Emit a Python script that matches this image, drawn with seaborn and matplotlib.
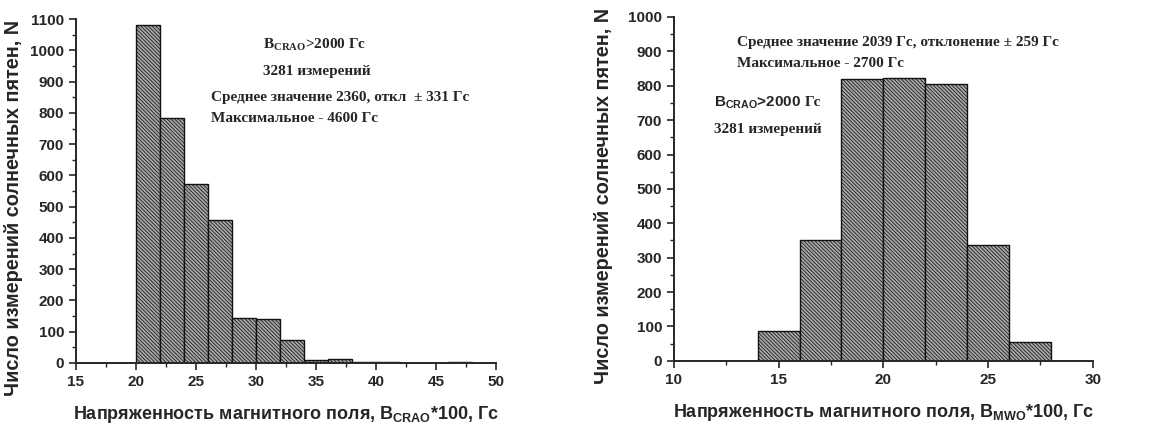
import numpy as np
import pandas as pd
import matplotlib
matplotlib.use("Agg")
import matplotlib.pyplot as plt
import matplotlib.ticker as mtick
import seaborn as sns

# CRAO histogram: bin edges (x100 Гс) and counts
crao_edges = [20, 22, 24, 26, 28, 30, 32, 34, 36, 38, 40, 42, 44, 46, 48]
crao_counts = [1082, 783, 573, 458, 144, 140, 75, 10, 13, 2, 3, 1, 1, 2]

# MWO histogram
mwo_edges = [14, 16, 18, 20, 22, 24, 26, 28]
mwo_counts = [87, 350, 820, 823, 805, 338, 55]

ylabel = "Число измерений солнечных пятен, N"
xlabel_crao = r"Напряженность магнитного поля, B$_{\mathregular{CRAO}}$*100, Гс"
xlabel_mwo = r"Напряженность магнитного поля, B$_{\mathregular{MWO}}$*100, Гс"

sns.set_style("ticks")
plt.rcParams["font.family"] = ["Liberation Sans", "DejaVu Sans"]
plt.rcParams["font.weight"] = "bold"
plt.rcParams["hatch.linewidth"] = 0.55
plt.rcParams["mathtext.default"] = "regular"

fig = plt.figure(figsize=(11.6, 4.25), dpi=100)
ax1 = fig.add_axes([0.0655, 0.146, 0.362, 0.809])
ax2 = fig.add_axes([0.581, 0.151, 0.361, 0.809])


def draw_hist(ax, edges, counts):
    centers = [(a + b) / 2 for a, b in zip(edges[:-1], edges[1:])]
    df = pd.DataFrame({"x": centers, "n": counts})
    sns.histplot(data=df, x="x", weights="n", bins=edges, ax=ax,
                 color="#a8a8a8", edgecolor="#111111", linewidth=1.0,
                 alpha=1, hatch="\\" * 9)


draw_hist(ax1, crao_edges, crao_counts)
draw_hist(ax2, mwo_edges, mwo_counts)

serif = ["Liberation Serif", "DejaVu Serif"]

setup = [(ax1, (15, 50), (0, 1100), xlabel_crao, (-0.126, 0.45)),
         (ax2, (10, 30), (0, 1000), xlabel_mwo, (-0.146, 0.48))]
for ax, xlim, ylim, xl, ylc in setup:
    ax.set_xlim(*xlim)
    ax.set_ylim(*ylim)
    xt = np.arange(xlim[0], xlim[1] + 1, 5)
    yt = np.arange(ylim[0], ylim[1] + 1, 100)
    ax.set_xticks(xt, [str(v) for v in xt])
    ax.set_yticks(yt, [str(v) for v in yt])
    ax.xaxis.set_minor_locator(mtick.MultipleLocator(2.5))
    ax.yaxis.set_minor_locator(mtick.MultipleLocator(50))
    ax.tick_params(which="major", direction="out", length=5, width=1.2,
                   labelsize=11)
    ax.tick_params(which="minor", direction="out", length=3, width=1.0)
    sns.despine(ax=ax)
    ax.spines["left"].set_linewidth(1.4)
    ax.spines["bottom"].set_linewidth(1.4)
    ax.set_xlabel(xl, fontsize=13, fontweight="bold", labelpad=11)
    ax.set_ylabel(ylabel, fontsize=14.3, fontweight="bold")
    ax.yaxis.set_label_coords(*ylc)

# annotations, left panel
kw = dict(transform=ax1.transAxes, fontsize=11, fontweight="bold",
          family=serif, va="center", ha="left")
ax1.text(0.445, 0.924, r"B$_{\mathregular{CRAO}}$>2000 Гс", **kw)
ax1.text(0.445, 0.849, "3281 измерений", **kw)
ax1.text(0.321, 0.773, "Среднее значение 2360, откл  ± 331 Гс", **kw)
ax1.text(0.321, 0.712, "Максимальное - 4600 Гс", **kw)

# annotations, right panel
kw2 = dict(kw, transform=ax2.transAxes)
ax2.text(0.150, 0.927, "Среднее значение 2039 Гс, отклонение ± 259 Гс", **kw2)
ax2.text(0.150, 0.866, "Максимальное - 2700 Гс", **kw2)
bt = ax2.text(0.095, 0.750, r"B$_{\mathregular{CRAO}}$>2000",
              **dict(kw2, family=["Liberation Sans", "DejaVu Sans"]))
ax2.annotate("Гс", xy=(1, 0.5), xycoords=bt, xytext=(3, 0),
             textcoords="offset points", fontsize=11, fontweight="bold",
             family=serif, va="center", ha="left")
ax2.text(0.095, 0.672, "3281 измерений", **kw2)

fig.canvas.draw()
for ax in (ax1, ax2):
    for lab in ax.get_xticklabels() + ax.get_yticklabels():
        lab.set_fontweight("heavy")

fig.savefig("out.png", dpi=100)
